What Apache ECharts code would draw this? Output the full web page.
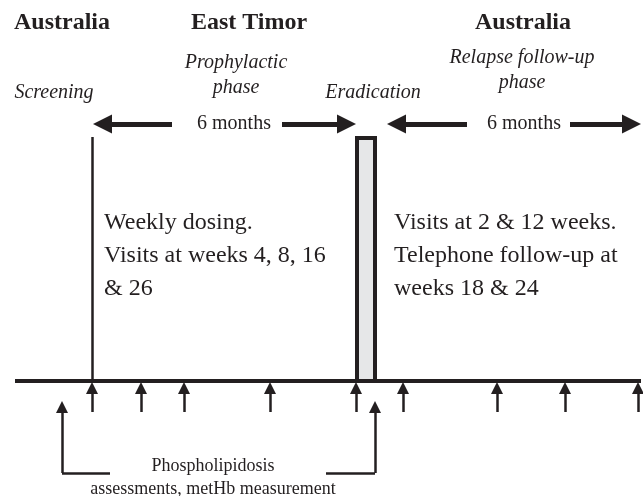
<!DOCTYPE html>
<html>
<head>
<meta charset="utf-8">
<script src="https://cdn.jsdelivr.net/npm/echarts@6/dist/echarts.min.js"></script>
<style>
  html, body { margin: 0; padding: 0; background: #fff; }
  #chart { width: 643px; height: 496px; }
</style>
</head>
<body>
<div id="chart"></div>
<script>
// Diagram space: x runs along the study timeline, y runs down the page
const ink = '#231f20';
const serif = 'Liberation Serif, Times New Roman, serif';

// Headings
const countries = ['Australia', 'East Timor', 'Australia'];
const countryX = [62, 249, 523];
const countryY = [23, 23, 23];

const phases = ['Screening', 'Prophylactic\nphase', 'Eradication', 'Relapse follow-up\nphase'];
const phaseX = [54, 236, 373, 522];
const phaseY = [93, 75, 93, 70];

const durations = ['6 months', '6 months'];
const durationX = [234, 524];
const durationY = [124, 124];

const notes = ['Weekly dosing.\nVisits at weeks 4, 8, 16\n& 26', 'Visits at 2 & 12 weeks.\nTelephone follow-up at\nweeks 18 & 24'];
const noteX = [104, 394];
const noteY = [256, 256];

const footnote = 'Phospholipidosis\nassessments, metHb measurement';
const footX = 213;
const footY = 478;

// Duration arrows [from, to] (to = arrow head)
const durationArrows = [
    [[172, 124], [102.5, 124]],
    [[282, 124], [346.5, 124]],
    [[467, 124], [396.5, 124]],
    [[570, 124], [631.5, 124]]
];

// Visit arrows under the timeline
const visitX = [92, 141, 184, 270, 356, 403, 497, 565, 638];
const visitTail = 412;
const visitHead = 388;

// Assessment arrows (longer, joined by bracket)
const assessX = [62, 375];
const assessTail = 473;
const assessHead = 407;
const bracketSegs = [
    [[62, 473], [110, 473]],
    [[326, 473], [375, 473]]
];

// Timeline, screening marker and eradication box
const timeline = [[15, 381], [641, 381]];
const screenLine = [[92, 137], [92, 381]];
const eradBox = [[357, 138, 375, 381]];

const chart = echarts.init(document.getElementById('chart'));

function textItems(texts, xs, ys) {
    return texts.map((t, i) => ({ name: t, value: [xs[i], ys[i]] }));
}

function textSeries(data, font, extra) {
    return {
        type: 'scatter',
        symbolSize: 0,
        silent: true,
        z: 10,
        itemStyle: { opacity: 1 },
        data: data,
        label: Object.assign({
            show: true,
            position: 'inside',
            formatter: p => p.name,
            color: ink,
            opacity: 1,
            fontFamily: serif
        }, font, extra || {})
    };
}

const option = {
    animation: false,
    grid: { left: 0, right: 0, top: 0, bottom: 0 },
    xAxis: { type: 'value', min: 0, max: 643, show: false },
    yAxis: { type: 'value', min: 0, max: 496, inverse: true, show: false },
    series: [
        {
            type: 'lines',
            coordinateSystem: 'cartesian2d',
            silent: true,
            symbol: 'none',
            lineStyle: { color: ink, width: 4, opacity: 1 },
            data: [{ coords: timeline }]
        },
        {
            type: 'lines',
            coordinateSystem: 'cartesian2d',
            silent: true,
            symbol: 'none',
            lineStyle: { color: ink, width: 2.5, opacity: 1 },
            data: [{ coords: screenLine }].concat(bracketSegs.map(c => ({ coords: c })))
        },
        {
            type: 'custom',
            silent: true,
            data: eradBox,
            renderItem: function (params, api) {
                const p0 = api.coord([api.value(0), api.value(1)]);
                const p1 = api.coord([api.value(2), api.value(3)]);
                return {
                    type: 'rect',
                    shape: { x: p0[0], y: p0[1], width: p1[0] - p0[0], height: p1[1] - p0[1] },
                    style: { fill: '#e6e7e8', stroke: ink, lineWidth: 4 }
                };
            }
        },
        {
            type: 'lines',
            coordinateSystem: 'cartesian2d',
            silent: true,
            symbol: ['none', 'triangle'],
            symbolSize: [14, 19],
            lineStyle: { color: ink, width: 5, opacity: 1 },
            itemStyle: { color: ink },
            data: durationArrows.map(c => ({ coords: c }))
        },
        {
            type: 'lines',
            coordinateSystem: 'cartesian2d',
            silent: true,
            symbol: ['none', 'triangle'],
            symbolSize: [10, 12],
            lineStyle: { color: ink, width: 2.5, opacity: 1 },
            data: visitX.map(x => ({ coords: [[x, visitTail], [x, visitHead]] }))
                .concat(assessX.map(x => ({ coords: [[x, assessTail], [x, assessHead]] })))
        },
        textSeries(textItems(countries, countryX, countryY), { fontSize: 24, fontWeight: 'bold' }),
        textSeries(textItems(phases, phaseX, phaseY), { fontSize: 20, fontStyle: 'italic', lineHeight: 25 }),
        textSeries(textItems(durations, durationX, durationY), { fontSize: 20 }),
        textSeries(textItems(notes, noteX, noteY), { fontSize: 24, lineHeight: 33 }, { position: 'right', distance: 0, align: 'left' }),
        textSeries(textItems([footnote], [footX], [footY]), { fontSize: 18, lineHeight: 23 })
    ]
};

chart.setOption(option);

window.addEventListener('resize', () => chart.resize());
</script>
</body>
</html>
